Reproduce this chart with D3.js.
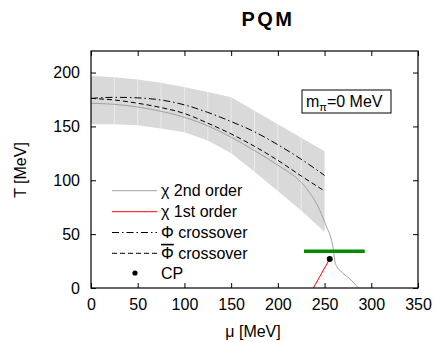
<!DOCTYPE html>
<html>
<head>
<meta charset="utf-8">
<script src="https://cdn.jsdelivr.net/npm/d3@7"></script>
<style>
  body { margin: 0; background: #fff; }
  svg text { font-family: 'Liberation Sans', Arial, Helvetica, sans-serif; fill: #000; }
</style>
</head>
<body>
<svg id="viz" width="436" height="342"></svg>
<script>
// band of the crossover region (grey shade)
const bandMu = [0, 25, 50, 75, 100, 125, 150, 175, 200, 225, 250];
const bandUpper = [197, 195.7, 193.5, 190.5, 186.5, 182, 177, 164.5, 152, 139.5, 127];
const bandLower = [152, 152, 151, 148, 144.5, 137, 125, 108, 90, 72, 52];

// Phi crossover (dash-dot) and Phi-bar crossover (dashed)
const phiMu = [0, 25, 50, 75, 100, 125, 150, 175, 200, 225, 250];
const phiT = [176, 177, 176.5, 174.5, 170, 163, 154.5, 145, 133, 119.5, 104.5];
const phiBarT = [176, 174.5, 171.5, 167.5, 162, 153, 143, 131.5, 118.5, 104, 90];

// chi 2nd order (grey)
const chi2Mu = [0, 25, 50, 75, 100, 125, 150, 175, 200, 225, 231, 245, 252, 257.5, 259.5, 261, 263, 267, 272, 277, 286];
const chi2T = [171.5, 170.5, 168, 164, 158.5, 150.5, 140, 127.5, 114, 98, 92, 72, 57, 44, 35, 25, 20, 16, 12, 8.5, 0];

// chi 1st order (red)
const chi1Mu = [238, 255.5];
const chi1T = [0, 27];

// critical point
const cpMu = [255.5];
const cpT = [27];

// green bar
const greenMu = [228, 293];
const greenT = [34, 34];

const xTicks = [0, 50, 100, 150, 200, 250, 300, 350];
const yTicks = [0, 50, 100, 150, 200];

const svg = d3.select('#viz');
const plotLeft = 91, plotRight = 418, plotTop = 51, plotBottom = 288;

let x = d3.scaleLinear().domain([0, 350]).range([plotLeft, plotRight]);
let y = d3.scaleLinear().domain([0, 220]).range([plotBottom, plotTop]);

svg.append('defs').append('clipPath').attr('id', 'clip')
  .append('rect').attr('x', plotLeft).attr('y', plotTop)
  .attr('width', plotRight - plotLeft).attr('height', plotBottom - plotTop);

const plot = svg.append('g').attr('clip-path', 'url(#clip)');

// BAND
const band = d3.area()
  .x((d, i) => x(bandMu[i]))
  .y0((d, i) => y(bandLower[i]))
  .y1((d, i) => y(bandUpper[i]));
plot.append('path').datum(bandMu).attr('d', band).attr('fill', '#d9d9d9');

// faint seams of the filled slices
plot.append('g').selectAll('line')
  .data(bandMu.slice(1, -1))
  .enter()
  .append('line')
  .attr('x1', (d) => x(d)).attr('x2', (d) => x(d))
  .attr('y1', (d, i) => y(bandUpper[i + 1]))
  .attr('y2', (d, i) => y(bandLower[i + 1]))
  .style('stroke', '#ebebeb')
  .style('stroke-width', 1);

const line = (mu, T) => d3.line()
  .x((d, i) => x(mu[i]))
  .y((d, i) => y(T[i]))
  .curve(d3.curveMonotoneX)(mu);

plot.append('path').attr('d', line(chi2Mu, chi2T))
  .attr('fill', 'none').style('stroke', '#a0a0a0').style('stroke-width', 1);
plot.append('path').attr('d', line(phiMu, phiT))
  .attr('fill', 'none').style('stroke', '#000').style('stroke-width', 1)
  .style('stroke-dasharray', '7,3,1.5,3');
plot.append('path').attr('d', line(phiMu, phiBarT))
  .attr('fill', 'none').style('stroke', '#000').style('stroke-width', 1)
  .style('stroke-dasharray', '5,3');
plot.append('path').attr('d', line(chi1Mu, chi1T))
  .attr('fill', 'none').style('stroke', '#ff0000').style('stroke-width', 1);
plot.append('path').attr('d', line(greenMu, greenT))
  .attr('fill', 'none').style('stroke', '#008a00').style('stroke-width', 3.5);
plot.append('g').selectAll('circle')
  .data(cpMu)
  .enter()
  .append('circle')
  .attr('cx', (d) => x(d))
  .attr('cy', (d, i) => y(cpT[i]))
  .attr('r', 3)
  .style('fill', '#000');

// AXES

svg.append('g')
  .attr('transform', 'translate(0,' + plotBottom + ')')
  .call(d3.axisBottom(x).tickValues(xTicks).tickSizeInner(-5).tickSizeOuter(0).tickPadding(10.5));
svg.append('g')
  .attr('transform', 'translate(' + plotLeft + ',0)')
  .call(d3.axisLeft(y).tickValues(yTicks).tickSizeInner(-5).tickSizeOuter(0).tickPadding(11));
svg.append('g')
  .attr('transform', 'translate(0,' + plotTop + ')')
  .call(d3.axisTop(x).tickValues(xTicks).tickSizeInner(-5).tickSizeOuter(0).tickFormat(''));
svg.append('g')
  .attr('transform', 'translate(' + plotRight + ',0)')
  .call(d3.axisRight(y).tickValues(yTicks).tickSizeInner(-5).tickSizeOuter(0).tickFormat(''));

svg.selectAll('.domain').remove();
svg.selectAll('.tick line').style('stroke', '#000');
svg.selectAll('.tick text')
  .style('font-size', '16px')
  .style('font-family', "'Liberation Sans', Arial, sans-serif");

svg.append('rect')
  .attr('x', plotLeft).attr('y', plotTop)
  .attr('width', plotRight - plotLeft).attr('height', plotBottom - plotTop)
  .attr('fill', 'none').style('stroke', '#000').style('stroke-width', 1.2);

// LABELS

svg.append('text')
  .attr('x', 268).attr('y', 26)
  .attr('text-anchor', 'middle')
  .style('font-size', '20px').style('font-weight', 'bold')
  .style('letter-spacing', '2.5px')
  .text('PQM');

svg.append('text')
  .attr('x', 253).attr('y', 337)
  .attr('text-anchor', 'middle')
  .style('font-size', '16px')
  .text('μ [MeV]');

svg.append('text')
  .attr('transform', 'translate(26,170) rotate(-90)')
  .attr('text-anchor', 'middle')
  .style('font-size', '16px')
  .text('T [MeV]');

// mass box
svg.append('rect')
  .attr('x', 302).attr('y', 90).attr('width', 89).attr('height', 23)
  .attr('fill', '#fff').style('stroke', '#000').style('stroke-width', 1);
const mt = svg.append('text').attr('x', 306).attr('y', 107).style('font-size', '16px');
mt.append('tspan').text('m');
mt.append('tspan').attr('dy', 4).style('font-size', '11px').text('π');
mt.append('tspan').attr('dy', -4).text('=0 MeV');

// LEGEND

const legendY = [190.7, 211.7, 232.5, 253.3, 273];
const legendLabels = ['χ 2nd order', 'χ 1st order', 'Φ crossover', 'Φ crossover', 'CP'];
const legendStyles = [
  { stroke: '#a0a0a0', dash: null },
  { stroke: '#ff0000', dash: null },
  { stroke: '#000', dash: '7,3,1.5,3' },
  { stroke: '#000', dash: '5,3' }
];

const legend = svg.append('g');
legendStyles.forEach((s, i) => {
  legend.append('line')
    .attr('x1', 112).attr('x2', 157)
    .attr('y1', legendY[i]).attr('y2', legendY[i])
    .style('stroke', s.stroke).style('stroke-width', 1)
    .style('stroke-dasharray', s.dash);
});
legend.append('circle').attr('cx', 135).attr('cy', legendY[4]).attr('r', 2.6).style('fill', '#000');

legendLabels.forEach((label, i) => {
  const t = legend.append('text')
    .attr('x', 161).attr('y', legendY[i] + 5.5)
    .style('font-size', '16px');
  if (i === 3) {
    t.append('tspan').style('text-decoration', 'overline').text('Φ');
    t.append('tspan').text(' crossover');
  } else {
    t.text(label);
  }
});
</script>
</body>
</html>
